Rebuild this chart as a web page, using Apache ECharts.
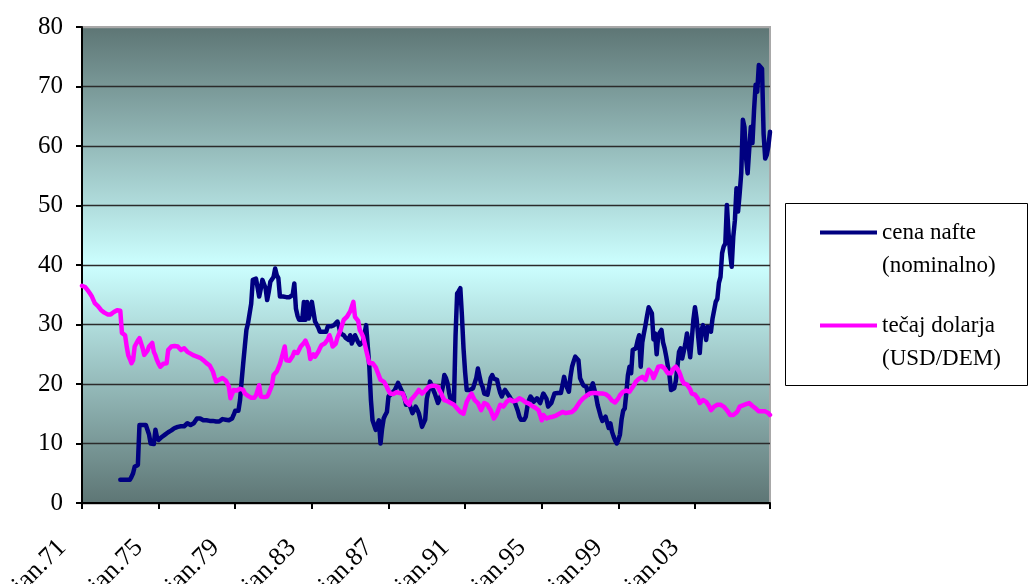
<!DOCTYPE html>
<html>
<head>
<meta charset="utf-8">
<script src="https://cdn.jsdelivr.net/npm/echarts@6/dist/echarts.min.js"></script>
<style>
  html, body { margin: 0; padding: 0; background: #ffffff; }
  #chart { width: 1031px; height: 584px; }
</style>
</head>
<body>
<div id="chart"></div>
<script>
// Monthly series, January 1971 to December 2006
const startYear = 1971;
const endYear = 2006;
const monthNames = ['jan', 'feb', 'mar', 'apr', 'maj', 'jun', 'jul', 'avg', 'sep', 'okt', 'nov', 'dec'];
const labelEvery = 48; // one label every four years

const seriesNames = ['cena nafte\n(nominalno)', 'tečaj dolarja\n(USD/DEM)'];

// Oil price, nominal USD per barrel (quoted from January 1973)
const oilPrice = [
  null, null, null, null, null, null, null, null, null, null, null, null,
  null, null, null, null, null, null, null, null, null, null, null, null,
  3.9, 3.9, 3.9, 3.9, 3.9, 3.9, 3.9, 4.4, 5.0, 6.1, 6.3, 6.4,
  13.1, 13.1, 13.1, 13.1, 13.1, 13.1, 11.5, 10.0, 9.9, 9.9, 12.3, 11.0,
  10.6, 10.9, 11.1, 11.3, 11.5, 11.7, 11.9, 12.0, 12.2, 12.5, 12.6, 12.7,
  12.8, 13.1, 12.9, 12.6, 12.9, 13.2, 13.4, 13.2, 13.1, 13.1, 13.4, 13.7,
  14.2, 14.4, 14.2, 13.9, 13.9, 13.9, 13.9, 13.9, 13.8, 13.9, 13.8, 13.8,
  13.7, 13.8, 13.7, 13.8, 14.1, 14.1, 14.0, 13.9, 13.9, 14.0, 14.2, 14.8,
  15.5, 15.5, 15.5, 17.3, 20.5, 23.5, 26.3, 29.1, 30.2, 30.2, 33.5, 37.5,
  37.6, 37.7, 37.8, 34.7, 36.0, 37.5, 37.2, 36.1, 34.1, 35.5, 37.2, 37.5,
  38.0, 39.4, 38.3, 37.8, 34.7, 34.7, 34.7, 34.7, 34.6, 34.6, 34.6, 34.7,
  35.0, 36.9, 32.7, 31.5, 30.8, 30.8, 30.8, 33.8, 30.8, 33.8, 31.0, 31.9,
  33.8, 33.8, 30.5, 30.2, 29.5, 28.8, 28.8, 28.8, 28.8, 28.8, 29.7, 29.7,
  29.7, 29.7, 29.9, 30.2, 30.5, 29.6, 28.5, 28.3, 28.2, 27.8, 27.6, 27.4,
  28.2, 26.8, 27.5, 28.2, 27.6, 27.0, 26.6, 26.8, 27.1, 28.5, 29.9, 29.9,
  22.9, 17.3, 13.9, 13.1, 12.3, 12.3, 13.9, 10.0, 12.5, 14.2, 14.8, 15.3,
  17.9, 18.1, 18.4, 18.7, 19.0, 19.6, 20.2, 19.6, 19.0, 19.0, 17.8, 16.5,
  16.5, 16.7, 16.8, 15.1, 15.6, 16.2, 15.7, 15.1, 14.0, 12.8, 12.6, 14.0,
  17.5, 18.7, 20.4, 19.8, 19.0, 18.4, 17.6, 16.8, 17.5, 18.2, 19.5, 21.5,
  21.0, 20.1, 18.5, 17.3, 17.0, 16.8, 28.0, 35.2, 35.6, 36.1, 31.5, 26.0,
  22.0, 19.0, 19.0, 19.0, 19.0, 19.3, 19.5, 21.0, 22.6, 21.3, 20.1, 19.5,
  18.4, 18.3, 18.2, 19.5, 21.0, 21.5, 20.9, 20.7, 20.7, 19.5, 18.5, 17.9,
  18.6, 19.0, 18.6, 18.2, 17.8, 17.3, 17.2, 17.0, 16.8, 15.5, 14.5, 14.0,
  13.7, 14.0, 14.5, 16.2, 17.3, 17.9, 17.5, 17.0, 17.3, 17.6, 17.2, 16.8,
  17.0, 18.4, 18.7, 17.5, 16.2, 16.5, 16.8, 17.6, 18.4, 18.4, 18.5, 18.5,
  18.5, 19.8, 21.2, 20.1, 19.3, 18.7, 21.2, 22.9, 23.8, 24.6, 24.3, 24.0,
  21.0, 20.4, 19.8, 19.7, 19.5, 18.2, 18.7, 19.4, 20.1, 19.8, 18.0, 16.5,
  15.5, 14.5, 13.8, 14.0, 14.5, 13.5, 12.6, 13.4, 12.0, 11.2, 10.5, 10.0,
  10.6, 11.5, 14.0, 15.5, 15.9, 18.5, 21.5, 22.9, 21.8, 25.7, 25.9, 26.0,
  27.2, 28.2, 22.9, 27.0, 28.5, 29.9, 31.5, 32.9, 33.1, 31.9, 27.5, 28.5,
  25.0, 28.2, 28.5, 29.1, 27.0, 26.0, 24.6, 23.0, 21.5, 19.0, 19.0, 19.3,
  20.5, 22.9, 25.4, 26.0, 24.3, 25.5, 26.8, 28.5, 26.5, 24.5, 27.5, 30.8,
  32.9, 31.0, 28.0, 25.2, 29.0, 29.9, 29.1, 27.4, 29.6, 29.2, 28.8, 31.0,
  30.8, 33.8, 34.3, 37.0, 38.0, 42.0, 43.1, 43.6, 50.1, 45.5, 42.0, 39.7,
  44.8, 47.5, 52.9, 49.0, 52.0, 55.5, 64.4, 63.2, 58.0, 55.4, 59.5, 63.2,
  60.5, 66.0, 70.3, 69.1, 73.6, 73.6, 73.0, 62.0, 57.9, 58.5, 60.0, 62.4
];

// Dollar exchange rate, DEM per USD multiplied by ten
const usdDem = [
  36.5, 36.5, 36.3, 36.4, 35.6, 35.2, 34.8, 34.5, 33.6, 33.4, 33.1, 32.8,
  32.4, 32.2, 32.0, 31.8, 31.7, 31.5, 31.7, 32.0, 32.1, 32.3, 32.4, 32.3,
  32.3, 28.6, 28.5, 28.2, 26.3, 24.8, 24.2, 23.5, 24.0, 26.3, 26.8, 27.3,
  27.7, 27.7, 26.0, 24.9, 24.9, 25.6, 26.3, 26.6, 26.9, 25.4, 24.8, 24.0,
  23.4, 22.9, 23.2, 23.4, 23.5, 23.5, 25.7, 26.0, 26.3, 26.6, 26.4, 26.3,
  26.3, 26.0, 25.7, 25.9, 26.0, 26.2, 25.4, 25.3, 25.1, 24.9, 24.8, 24.7,
  24.6, 24.5, 24.4, 24.3, 24.0, 23.7, 23.5, 23.3, 23.1, 22.9, 22.1, 21.2,
  20.4, 20.6, 20.7, 20.8, 21.0, 21.1, 20.6, 20.3, 19.6, 17.6, 18.3, 19.0,
  19.0, 18.9, 19.0, 19.2, 19.5, 19.0, 18.4, 18.2, 18.0, 17.8, 17.7, 17.6,
  17.7, 18.1, 18.4, 19.8, 17.9, 17.9, 17.8, 17.9, 17.9, 18.4, 19.1, 19.8,
  21.5, 21.8, 22.1, 22.4, 23.4, 24.3, 25.3, 26.3, 24.0, 24.0, 23.9, 24.0,
  24.7, 25.4, 25.3, 25.2, 25.2, 26.3, 26.6, 26.9, 27.3, 27.5, 26.0, 24.2,
  24.6, 25.0, 24.6, 25.0, 25.4, 26.0, 26.5, 26.6, 26.8, 26.8, 27.5, 28.2,
  27.4, 26.3, 26.5, 26.8, 27.8, 28.4, 29.1, 30.0, 30.8, 31.0, 31.3, 31.6,
  32.2, 33.0, 33.8, 31.3, 31.0, 30.6, 29.1, 28.6, 28.0, 26.9, 25.7, 24.6,
  23.5, 23.4, 23.5, 23.5, 22.8, 22.1, 21.4, 20.7, 20.6, 20.4, 20.0, 19.5,
  18.9, 18.4, 18.4, 18.3, 18.4, 18.6, 18.7, 18.5, 18.4, 18.4, 17.6, 17.0,
  16.7, 16.5, 17.3, 17.6, 17.9, 18.2, 18.6, 19.0, 18.8, 18.4, 18.7, 18.9,
  19.2, 19.5, 19.6, 19.7, 19.8, 19.7, 19.6, 19.5, 18.9, 18.4, 17.8, 17.3,
  17.2, 17.1, 17.0, 16.8, 16.7, 16.5, 16.2, 15.9, 15.6, 15.3, 15.1, 15.0,
  15.2, 17.0, 17.5, 18.0, 18.4, 17.8, 17.3, 17.0, 16.8, 16.2, 15.6, 16.2,
  16.8, 16.7, 16.5, 16.0, 15.6, 14.9, 14.2, 14.6, 15.1, 15.8, 16.5, 16.4,
  16.2, 16.6, 17.0, 17.2, 17.4, 17.3, 17.1, 17.0, 17.2, 17.4, 17.6, 17.6,
  17.3, 17.0, 16.9, 16.8, 16.7, 16.5, 16.3, 16.2, 16.0, 15.8, 15.6, 14.8,
  13.9, 14.8, 14.5, 14.2, 14.3, 14.4, 14.5, 14.5, 14.6, 14.7, 14.8, 15.0,
  15.2, 15.3, 15.2, 15.1, 15.1, 15.2, 15.3, 15.3, 15.5, 15.8, 16.2, 16.5,
  17.0, 17.3, 17.6, 17.9, 18.0, 18.2, 18.4, 18.5, 18.5, 18.4, 18.5, 18.4,
  18.4, 18.3, 18.4, 18.4, 18.3, 18.1, 17.9, 17.6, 17.2, 16.9, 16.9, 17.0,
  17.6, 18.1, 18.4, 18.7, 19.0, 18.9, 18.7, 18.7, 19.1, 19.5, 19.9, 20.4,
  20.7, 20.9, 21.1, 21.2, 20.9, 20.7, 21.5, 22.4, 22.1, 21.8, 21.0, 21.6,
  22.2, 22.9, 22.6, 23.0, 23.2, 22.6, 22.2, 21.8, 21.8, 21.8, 22.4, 22.6,
  22.9, 22.5, 22.1, 21.4, 20.6, 20.1, 20.0, 19.9, 19.8, 19.1, 18.4, 18.3,
  18.2, 18.2, 17.5, 16.8, 17.1, 17.3, 17.3, 17.0, 16.8, 16.2, 15.6, 15.9,
  16.2, 16.5, 16.5, 16.5, 16.5, 16.5, 16.2, 15.9, 15.6, 15.2, 14.8, 14.5,
  14.8, 15.1, 15.2, 15.6, 16.2, 16.3, 16.4, 16.5, 16.6, 16.7, 16.8, 16.6,
  16.3, 16.0, 15.9, 15.6, 15.4, 15.3, 15.4, 15.5, 15.4, 15.2, 15.1, 14.8
];

// Category labels such as "jan.71"
const months = [];
for (let y = startYear; y <= endYear; y++) {
  const yy = String(y % 100).padStart(2, '0');
  monthNames.forEach(function (m) { months.push(m + '.' + yy); });
}
const lastIndex = months.length - 1;

const serif = 'Liberation Serif, Times New Roman, serif';

const chart = echarts.init(document.getElementById('chart'), null, { renderer: 'canvas' });

chart.setOption({
  backgroundColor: '#ffffff',
  animation: false,
  grid: {
    left: 82, right: 261, top: 27, bottom: 81,
    containLabel: false,
    outerBoundsMode: 'none',
    show: true,
    borderColor: '#a8a8a8',
    borderWidth: 2,
    backgroundColor: new echarts.graphic.LinearGradient(0, 0, 0, 1, [
      { offset: 0, color: '#5d7574' },
      { offset: 0.5, color: '#ccffff' },
      { offset: 1, color: '#5d7574' }
    ])
  },
  graphic: [{
    type: 'rect',
    left: 785, top: 203,
    shape: { width: 242, height: 182 },
    style: { fill: '#ffffff', stroke: '#000000', lineWidth: 1 },
    z: 0
  }],
  legend: {
    orient: 'vertical',
    left: 820,
    top: 183,
    padding: 0,
    itemGap: -6,
    itemWidth: 57,
    itemHeight: 4,
    icon: 'rect',
    data: seriesNames,
    // a blank first row keeps the sample line level with the first row of the name
    formatter: function (name) { return '\u00a0\n' + name; },
    textStyle: {
      fontFamily: serif,
      fontSize: 23,
      lineHeight: 33,
      color: '#000000'
    }
  },
  xAxis: {
    type: 'category',
    data: months,
    boundaryGap: false,
    axisLine: { show: true, lineStyle: { color: '#000000', width: 2 } },
    axisTick: {
      show: true,
      length: 6,
      lineStyle: { color: '#000000', width: 2 },
      interval: function (index) { return index % labelEvery === 0 || index === lastIndex; }
    },
    axisLabel: {
      interval: function (index) { return index % labelEvery === 0; },
      rotate: 45,
      margin: 21,
      padding: [0, 28, 0, 0],
      fontFamily: serif,
      fontSize: 26,
      color: '#000000'
    },
    splitLine: { show: false }
  },
  yAxis: {
    type: 'value',
    min: 0,
    max: 80,
    interval: 10,
    axisLine: { show: true, lineStyle: { color: '#000000', width: 2 } },
    axisTick: { show: true, length: 6, lineStyle: { color: '#000000', width: 2 } },
    axisLabel: {
      margin: 19,
      fontFamily: serif,
      fontSize: 25,
      color: '#000000'
    },
    splitLine: {
      show: true,
      lineStyle: {
        color: ['#2b2b2b', '#2b2b2b', '#2b2b2b', '#2b2b2b', '#2b2b2b',
                '#2b2b2b', '#2b2b2b', '#2b2b2b', '#a8a8a8'],
        width: 1.3
      }
    }
  },
  series: [
    {
      name: seriesNames[0],
      type: 'line',
      data: oilPrice,
      showSymbol: false,
      color: '#000080',
      lineStyle: { color: '#000080', width: 4.5, cap: 'round', join: 'round' }
    },
    {
      name: seriesNames[1],
      type: 'line',
      data: usdDem,
      showSymbol: false,
      color: '#ff00ff',
      lineStyle: { color: '#ff00ff', width: 4.5, cap: 'round', join: 'round' }
    }
  ]
});
</script>
</body>
</html>
